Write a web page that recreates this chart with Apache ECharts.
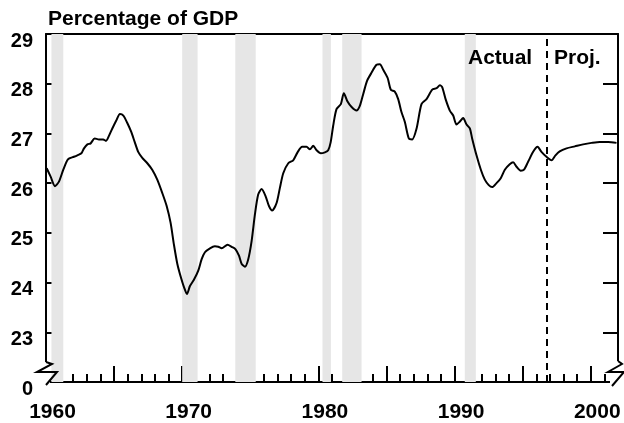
<!DOCTYPE html>
<html>
<head>
<meta charset="utf-8">
<script src="https://cdn.jsdelivr.net/npm/echarts@6/dist/echarts.min.js"></script>
<style>
  html, body { margin: 0; padding: 0; background: #ffffff; }
  #chart { width: 624px; height: 423px; }
</style>
</head>
<body>
<div id="chart"></div>
<script>
// percentage of GDP (year, value)
var years = [
  1960.05, 1960.34, 1960.66, 1960.95, 1961.27, 1961.61, 1962.05, 1962.30, 1962.60, 1962.79,
  1963.04, 1963.28, 1963.57, 1963.89, 1964.20, 1964.40, 1964.62, 1964.87, 1965.16, 1965.43,
  1965.68, 1965.97, 1966.26, 1966.51, 1966.77, 1967.07, 1967.44, 1967.80, 1968.17, 1968.54,
  1968.86, 1969.15, 1969.39, 1969.64, 1969.93, 1970.13, 1970.35, 1970.57, 1970.85, 1971.18,
  1971.43, 1971.67, 1972.04, 1972.40, 1972.65, 1972.90, 1973.33, 1973.63, 1973.92, 1974.17,
  1974.36, 1974.61, 1974.85, 1975.10, 1975.34, 1975.58, 1975.83, 1976.12, 1976.37, 1976.61,
  1976.93, 1977.17, 1977.42, 1977.79, 1978.15, 1978.47, 1978.81, 1979.13, 1979.38, 1979.62,
  1979.87, 1980.18, 1980.48, 1980.72, 1980.90, 1981.09, 1981.33, 1981.65, 1981.87, 1982.14,
  1982.44, 1982.80, 1983.05, 1983.29, 1983.58, 1983.90, 1984.27, 1984.51, 1984.76, 1985.08,
  1985.32, 1985.61, 1985.86, 1986.10, 1986.35, 1986.64, 1986.89, 1987.21, 1987.57, 1987.94,
  1988.36, 1988.68, 1988.92, 1989.09, 1989.34, 1989.65, 1989.90, 1990.14, 1990.39, 1990.63,
  1990.88, 1991.12, 1991.29, 1991.61, 1991.93, 1992.22, 1992.51, 1992.76, 1993.08, 1993.39,
  1993.69, 1994.05, 1994.30, 1994.55, 1994.86, 1995.10, 1995.40, 1995.77, 1996.09, 1996.38,
  1996.75, 1997.12, 1997.41, 1997.72, 1998.22, 1998.83, 1999.44, 2000.06, 2000.66, 2001.27,
  2001.89
];
var values = [
  26.30, 26.13, 25.94, 26.03, 26.27, 26.48, 26.53, 26.56, 26.60, 26.70,
  26.78, 26.80, 26.90, 26.88, 26.88, 26.85, 26.95, 27.10, 27.26, 27.39,
  27.36, 27.21, 27.03, 26.83, 26.63, 26.51, 26.40, 26.27, 26.07, 25.80,
  25.54, 25.20, 24.77, 24.38, 24.08, 23.91, 23.77, 23.93, 24.05, 24.24,
  24.47, 24.61, 24.69, 24.73, 24.72, 24.69, 24.76, 24.72, 24.67, 24.54,
  24.38, 24.32, 24.47, 24.84, 25.37, 25.77, 25.88, 25.74, 25.54, 25.45,
  25.60, 25.90, 26.20, 26.40, 26.46, 26.62, 26.73, 26.73, 26.68, 26.75,
  26.66, 26.60, 26.62, 26.66, 26.82, 27.16, 27.49, 27.59, 27.81, 27.64,
  27.53, 27.46, 27.56, 27.79, 28.06, 28.22, 28.38, 28.39, 28.28, 28.12,
  27.88, 27.84, 27.69, 27.43, 27.23, 26.90, 26.88, 27.10, 27.59, 27.69,
  27.88, 27.91, 27.97, 27.93, 27.69, 27.46, 27.36, 27.18, 27.24, 27.31,
  27.18, 27.10, 26.90, 26.56, 26.27, 26.07, 25.96, 25.92, 26.00, 26.10,
  26.27, 26.38, 26.42, 26.33, 26.25, 26.27, 26.43, 26.63, 26.73, 26.63,
  26.53, 26.46, 26.56, 26.64, 26.70, 26.74, 26.78, 26.81, 26.83, 26.83,
  26.81
];
// recessions (shaded)
var recStart = [1960.40, 1970.00, 1973.90, 1980.30, 1981.75, 1990.75];
var recEnd   = [1961.27, 1971.13, 1975.40, 1980.92, 1983.17, 1991.56];
// actual / projection divide
var projStart = 1996.75;
var yTicks = [22, 23, 24, 25, 26, 27, 28, 29];
var yTickLabels = ['0', '23', '24', '25', '26', '27', '28', '29'];

var font = '"Liberation Sans", Arial, Helvetica, sans-serif';
var chart = echarts.init(document.getElementById('chart'));

var lineData = [];
for (var i = 0; i < years.length; i++) {
  lineData.push([years[i], values[i]]);
}
var bands = [];
for (var i = 0; i < recStart.length; i++) {
  bands.push([{ xAxis: recStart[i] }, { xAxis: recEnd[i] }]);
}

var option = {
  animation: false,
  backgroundColor: '#ffffff',
  title: {
    text: 'Percentage of GDP',
    left: 43,
    top: 4,
    textStyle: { color: '#000', fontSize: 21, fontWeight: 'bold', fontFamily: font }
  },
  grid: { left: 46, right: 6, top: 34, bottom: 37 },
  xAxis: [{
    type: 'value',
    min: 1960,
    max: 2002,
    interval: 5,
    axisLine: { onZero: false, lineStyle: { color: '#000', width: 2 } },
    axisTick: { inside: true, length: 16, lineStyle: { color: '#000', width: 2 } },
    minorTick: { show: true, splitNumber: 5, length: 8, lineStyle: { color: '#000', width: 2 } },
    splitLine: { show: false },
    axisLabel: {
      margin: 20,
      rich: {
        s: { width: 13, fontSize: 20 },
        a: { color: '#000', fontSize: 21, fontWeight: 'bold', fontFamily: font }
      },
      // spacer in front shifts the year a few pixels right of its tick
      formatter: function (v) { return v % 10 === 0 ? '{s|}{a|' + v + '}' : ''; }
    }
  }, {
    type: 'value',
    position: 'top',
    min: 1960,
    max: 2002,
    axisLine: { show: true, onZero: false, lineStyle: { color: '#000', width: 2 } },
    axisTick: { show: false },
    axisLabel: { show: false },
    splitLine: { show: false }
  }],
  yAxis: [{
    type: 'value',
    min: 22,
    max: 29,
    interval: 1,
    axisLine: { show: true, onZero: false, lineStyle: { color: '#000', width: 2 } },
    axisTick: { inside: true, length: 17, lineStyle: { color: '#000', width: 2 } },
    splitLine: { show: false },
    axisLabel: {
      margin: 13,
      rich: { a: { color: '#000', fontSize: 20, fontWeight: 'bold', fontFamily: font, padding: [14, 0, 0, 0] } },
      formatter: function (v) {
        var k = yTicks.indexOf(v);
        return k >= 0 ? '{a|' + yTickLabels[k] + '}' : '';
      }
    }
  }, {
    type: 'value',
    position: 'right',
    min: 22,
    max: 29,
    interval: 1,
    axisLine: { show: true, onZero: false, lineStyle: { color: '#000', width: 2 } },
    axisTick: { inside: true, length: 15, lineStyle: { color: '#000', width: 2 } },
    axisLabel: { show: false },
    splitLine: { show: false }
  }],
  series: [{
    type: 'line',
    data: lineData,
    showSymbol: false,
    smooth: 0.25,
    lineStyle: { color: '#000', width: 2 },
    z: 5,
    markArea: {
      silent: true,
      itemStyle: { color: '#e6e6e6' },
      data: bands
    },
    markLine: {
      silent: true,
      symbol: 'none',
      label: { show: false },
      lineStyle: { color: '#000', width: 2, type: [7, 5] },
      data: [{ xAxis: projStart }]
    }
  }],
  graphic: [
    // axis breaks
    { type: 'rect', z: 100, shape: { x: 38, y: 362, width: 12, height: 22 }, style: { fill: '#fff' } },
    { type: 'polyline', z: 101, shape: { points: [[46, 362], [52, 364], [37, 372], [57, 372], [46, 385]] },
      style: { stroke: '#000', lineWidth: 2, fill: null } },
    { type: 'rect', z: 100, shape: { x: 610, y: 361, width: 14, height: 28 }, style: { fill: '#fff' } },
    { type: 'polyline', z: 101, shape: { points: [[618, 361], [622, 364], [608, 372], [624, 372], [612, 386]] },
      style: { stroke: '#000', lineWidth: 2, fill: null } },
    { type: 'text', z: 101, left: 468, top: 48,
      style: { text: 'Actual', fill: '#000', font: 'bold 21px ' + font } },
    { type: 'text', z: 101, left: 554, top: 48,
      style: { text: 'Proj.', fill: '#000', font: 'bold 21px ' + font } }
  ]
};

chart.setOption(option);
window.addEventListener('resize', function () {
  chart.resize();
});
</script>
</body>
</html>
